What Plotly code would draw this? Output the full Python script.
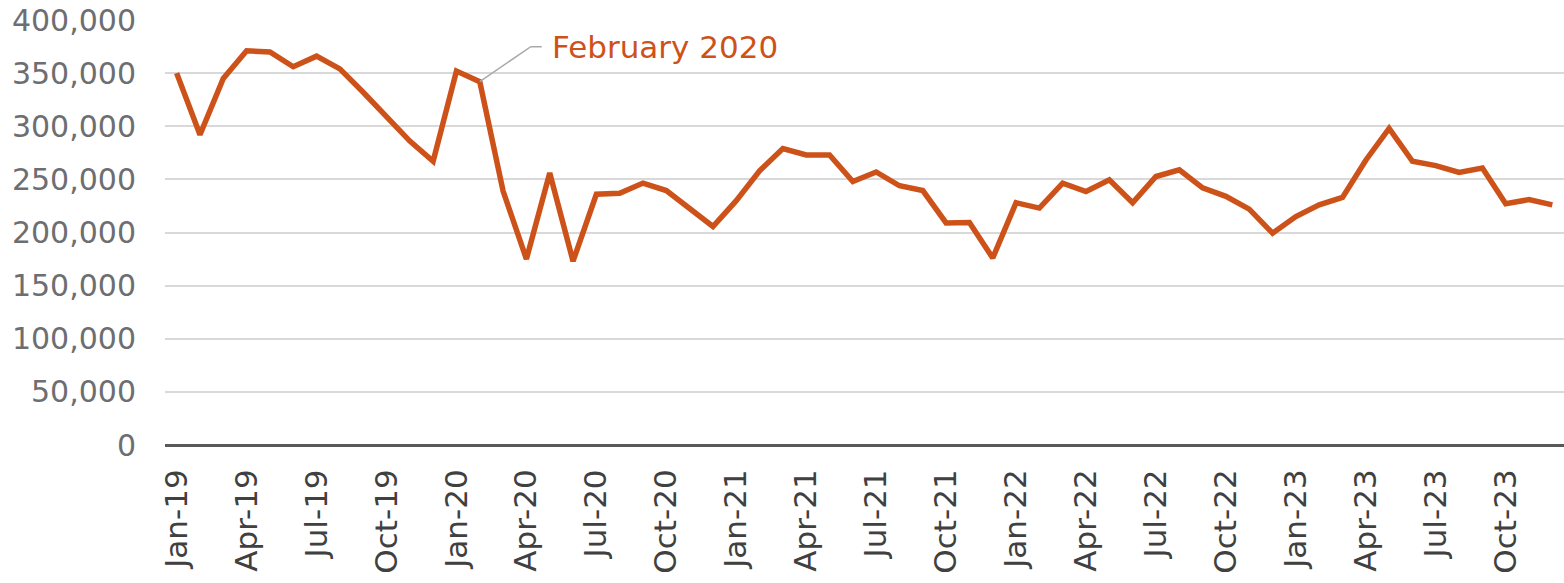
import plotly.graph_objects as go

month_names = ["Jan", "Feb", "Mar", "Apr", "May", "Jun", "Jul", "Aug", "Sep", "Oct", "Nov", "Dec"]
years = ["19", "20", "21", "22", "23"]
months = [f"{m}-{y}" for y in years for m in month_names]

values = [
    350000, 292000, 345000, 371000, 370000, 356000, 366000, 354000, 332000, 309000, 286000, 267000,
    352000, 342000, 239000, 175000, 256000, 173000, 236000, 237000, 246500, 239500, 222000, 205600,
    230000, 258000, 279000, 273000, 273000, 248000, 257000, 244000, 239500, 209000, 209400, 176000,
    228000, 223000, 246500, 238600, 249600, 228000, 252700, 259000, 242000, 234000, 222000, 199400,
    215000, 226000, 233000, 268000, 298000, 267000, 263000, 256500, 260600, 227000, 231000, 226000,
]

tick_labels = months[::3]
y_ticks = [0, 50000, 100000, 150000, 200000, 250000, 300000, 350000, 400000]

annot_month = "Feb-20"
annot_text = "February 2020"
annot_value = values[months.index(annot_month)]

ORANGE = "#CD5219"
FONT = "DejaVu Sans"

fig = go.Figure()
fig.add_trace(go.Scatter(
    x=months, y=values, mode="lines",
    line=dict(color=ORANGE, width=5.5),
    hoverinfo="skip",
))

fig.add_shape(
    type="path",
    xref="x", yref="y",
    xsizemode="pixel", ysizemode="pixel",
    xanchor=annot_month, yanchor=annot_value,
    path="M 0 0 L 51 35 L 62 35",
    line=dict(color="#AAAAAA", width=1.5),
)
fig.add_annotation(
    x=annot_month, y=annot_value, xref="x", yref="y",
    text=annot_text, showarrow=False,
    xanchor="left", yanchor="middle",
    xshift=70, yshift=35,
    font=dict(family=FONT, size=31, color=ORANGE),
)

fig.update_layout(
    width=1564, height=583,
    margin=dict(l=165, r=0, t=20, b=138),
    paper_bgcolor="white", plot_bgcolor="white",
    showlegend=False,
    font=dict(family=FONT),
)
fig.update_xaxes(
    type="category",
    range=[-0.5, len(months) - 0.5],
    tickmode="array", tickvals=tick_labels, ticktext=tick_labels,
    tickangle=-90,
    tickfont=dict(family=FONT, size=31, color="#404040"),
    ticks="outside", ticklen=11, tickcolor="rgba(0,0,0,0)",
    ticklabeloverflow="allow", automargin=False,
    showgrid=False, showline=False, zeroline=False,
)
fig.update_yaxes(
    range=[0, 400000],
    tickmode="array", tickvals=y_ticks,
    tickformat=",",
    tickfont=dict(family=FONT, size=30, color="#6D6E71"),
    ticks="outside", ticklen=22, tickcolor="rgba(0,0,0,0)",
    ticklabeloverflow="allow", automargin=False,
    showgrid=True, gridcolor="#D9D9D9", gridwidth=2,
    zeroline=True, zerolinecolor="#595959", zerolinewidth=2.5,
    showline=False,
)

fig.write_html(
    "out.html",
    config={"displayModeBar": False},
    post_script="document.body.style.margin='0px';document.body.style.overflow='hidden';",
)
